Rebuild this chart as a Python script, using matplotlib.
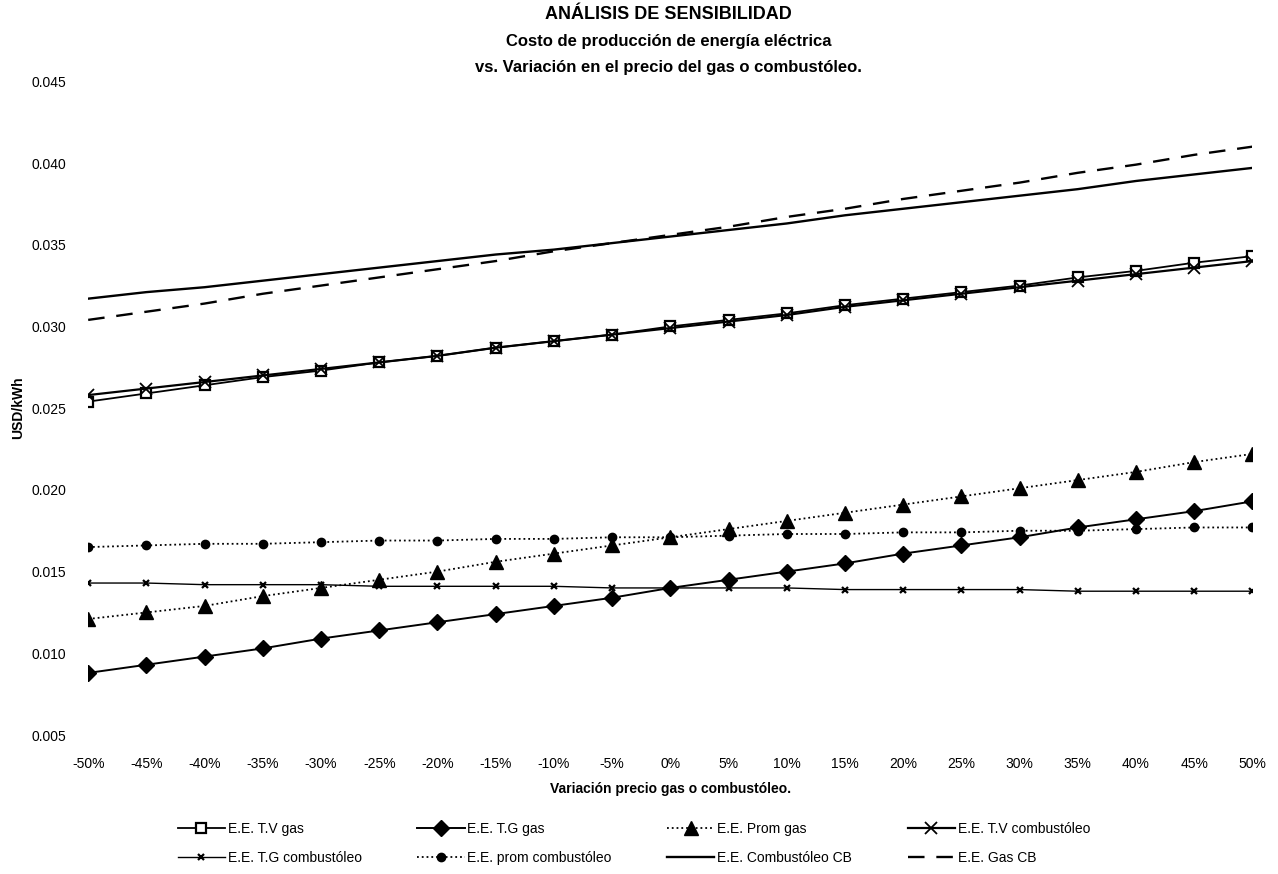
import matplotlib
matplotlib.use("Agg")
from matplotlib import pyplot as plt
from matplotlib.ticker import FixedLocator, FormatStrFormatter

plt.rcParams['font.family'] = ['Liberation Sans', 'DejaVu Sans']

variacion = ['-50%', '-45%', '-40%', '-35%', '-30%', '-25%', '-20%', '-15%', '-10%', '-5%', '0%',
             '5%', '10%', '15%', '20%', '25%', '30%', '35%', '40%', '45%', '50%']

tv_gas = [0.0254, 0.0259, 0.0264, 0.0269, 0.0273, 0.0278, 0.0282, 0.0287, 0.0291, 0.0295, 0.0300,
          0.0304, 0.0308, 0.0313, 0.0317, 0.0321, 0.0325, 0.0330, 0.0334, 0.0339, 0.0343]
tg_gas = [0.0088, 0.0093, 0.0098, 0.0103, 0.0109, 0.0114, 0.0119, 0.0124, 0.0129, 0.0134, 0.0140,
          0.0145, 0.0150, 0.0155, 0.0161, 0.0166, 0.0171, 0.0177, 0.0182, 0.0187, 0.0193]
prom_gas = [0.0121, 0.0125, 0.0129, 0.0135, 0.0140, 0.0145, 0.0150, 0.0156, 0.0161, 0.0166, 0.0171,
            0.0176, 0.0181, 0.0186, 0.0191, 0.0196, 0.0201, 0.0206, 0.0211, 0.0217, 0.0222]
tv_comb = [0.0258, 0.0262, 0.0266, 0.0270, 0.0274, 0.0278, 0.0282, 0.0287, 0.0291, 0.0295, 0.0299,
           0.0303, 0.0307, 0.0312, 0.0316, 0.0320, 0.0324, 0.0328, 0.0332, 0.0336, 0.0340]
tg_comb = [0.0143, 0.0143, 0.0142, 0.0142, 0.0142, 0.0141, 0.0141, 0.0141, 0.0141, 0.0140, 0.0140,
           0.0140, 0.0140, 0.0139, 0.0139, 0.0139, 0.0139, 0.0138, 0.0138, 0.0138, 0.0138]
prom_comb = [0.0165, 0.0166, 0.0167, 0.0167, 0.0168, 0.0169, 0.0169, 0.0170, 0.0170, 0.0171, 0.0171,
             0.0172, 0.0173, 0.0173, 0.0174, 0.0174, 0.0175, 0.0175, 0.0176, 0.0177, 0.0177]
comb_cb = [0.0317, 0.0321, 0.0324, 0.0328, 0.0332, 0.0336, 0.0340, 0.0344, 0.0347, 0.0351, 0.0355,
           0.0359, 0.0363, 0.0368, 0.0372, 0.0376, 0.0380, 0.0384, 0.0389, 0.0393, 0.0397]
gas_cb = [0.0304, 0.0309, 0.0314, 0.0320, 0.0325, 0.0330, 0.0335, 0.0340, 0.0346, 0.0351, 0.0356,
          0.0361, 0.0367, 0.0372, 0.0378, 0.0383, 0.0388, 0.0394, 0.0399, 0.0405, 0.0410]

y_ticks = [0.005, 0.010, 0.015, 0.020, 0.025, 0.030, 0.035, 0.040, 0.045]

fig = plt.figure(figsize=(12.78, 8.74), dpi=100)
ax = fig.add_axes([0.069, 0.159, 0.911, 0.748])
x = list(range(len(variacion)))

h_tvg, = ax.plot(x, tv_gas, color='black', lw=1.3, marker='s', ms=7,
                 mfc='white', mec='black', mew=1.6, label='E.E. T.V gas')
h_tgg, = ax.plot(x, tg_gas, color='black', lw=1.4, marker='D', ms=8,
                 label='E.E. T.G gas')
h_pg, = ax.plot(x, prom_gas, color='black', lw=1.3, ls=':', marker='^', ms=10,
                label='E.E. Prom gas')
h_tvc, = ax.plot(x, tv_comb, color='black', lw=1.6, marker='x', ms=8, mew=1.3,
                 label='E.E. T.V combustóleo')
h_tgc, = ax.plot(x, tg_comb, color='black', lw=1.0, marker='x', ms=5, mew=1.6,
                 label='E.E. T.G combustóleo')
h_pc, = ax.plot(x, prom_comb, color='black', lw=1.3, ls=':', marker='o', ms=6,
                label='E.E. prom combustóleo')
h_ccb, = ax.plot(x, comb_cb, color='black', lw=1.7, label='E.E. Combustóleo CB')
h_gcb, = ax.plot(x, gas_cb, color='black', lw=1.7, ls=(0, (7, 5)), label='E.E. Gas CB')

ax.set_xlim(0, len(variacion) - 1)
ax.set_ylim(0.005, 0.045)
ax.set_xticks(x)
ax.set_xticklabels(variacion, fontsize=10)
ax.yaxis.set_major_locator(FixedLocator(y_ticks))
ax.yaxis.set_major_formatter(FormatStrFormatter('%.3f'))
ax.tick_params(axis='y', labelsize=10, length=0, pad=16)
ax.tick_params(axis='x', length=0, pad=16)
for s in ax.spines.values():
    s.set_visible(False)

ax.set_ylabel('USD/kWh', fontsize=10, fontweight='bold', labelpad=4)
ax.set_xlabel('Variación precio gas o combustóleo.', fontsize=10, fontweight='bold', labelpad=8)

fig.text(0.523, 0.983, 'ANÁLISIS DE SENSIBILIDAD', ha='center', va='center',
         fontsize=13, fontweight='bold')
fig.text(0.523, 0.953, 'Costo de producción de energía eléctrica', ha='center', va='center',
         fontsize=12, fontweight='bold')
fig.text(0.523, 0.923, 'vs. Variación en el precio del gas o combustóleo.', ha='center', va='center',
         fontsize=12, fontweight='bold')

handles = [h_tvg, h_tgc, h_tgg, h_pc, h_pg, h_ccb, h_tvc, h_gcb]
fig.legend(handles=handles, loc='center', bbox_to_anchor=(0.496, 0.035), ncol=4,
           frameon=False, fontsize=10, handlelength=3.4, columnspacing=4.0,
           labelspacing=1.1, handletextpad=0.2)

fig.savefig('out.png', dpi=100)
